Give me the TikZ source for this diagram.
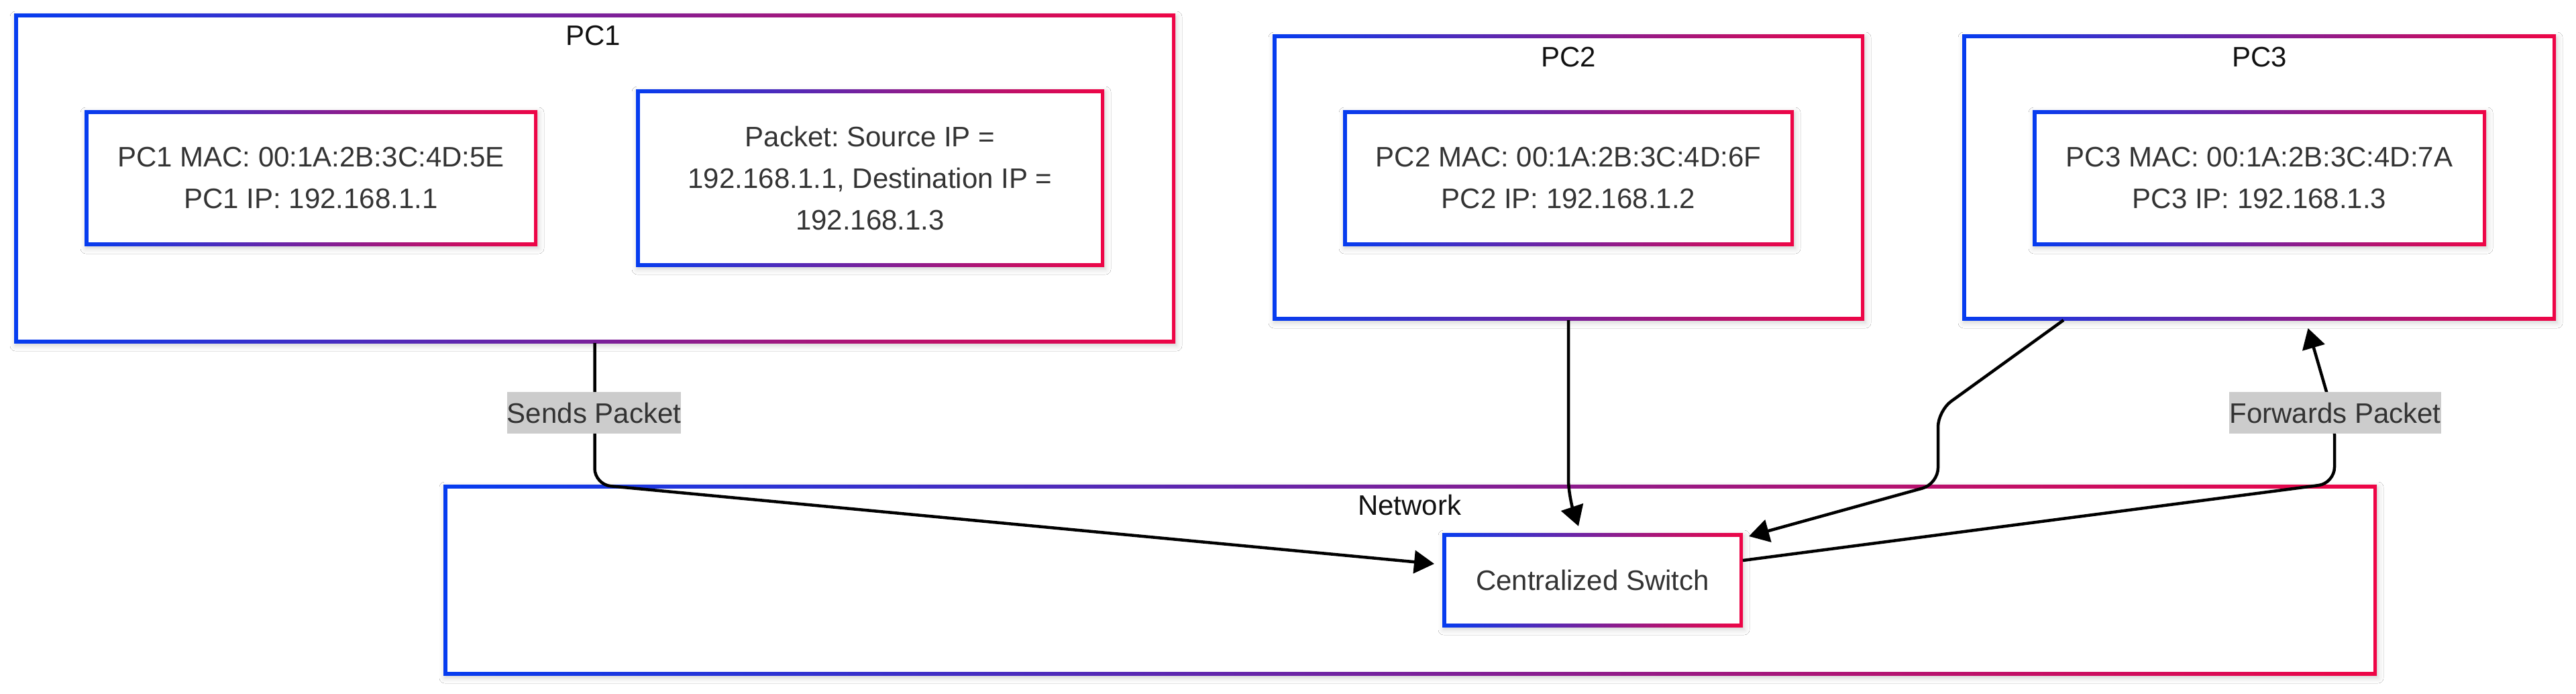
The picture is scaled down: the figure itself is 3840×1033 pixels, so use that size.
\documentclass[tikz,border=0pt]{standalone}
\usepackage{fontspec}
\setmainfont{Liberation Sans}
\usetikzlibrary{arrows.meta,shadows.blur}
\definecolor{gblue}{RGB}{5,60,240}
\definecolor{gred}{RGB}{238,5,70}
\definecolor{txt}{HTML}{333333}
\definecolor{ttl}{HTML}{111111}
\definecolor{lblgray}{HTML}{CCCCCC}
\newcommand\diagfont{\fontsize{42pt}{62pt}\selectfont\frenchspacing}
\tikzset{
  gbox/.style={rectangle, inner sep=0pt, outer sep=0pt, align=center, text=txt, font=\diagfont,
    blur shadow={shadow xshift=2pt, shadow yshift=-4pt, shadow blur radius=8pt, shadow opacity=18},
    path picture={
      \shade[left color=gblue, right color=gred] (path picture bounding box.south west) rectangle (path picture bounding box.north east);
      \fill[white] ([xshift=5.5pt,yshift=-5.5pt]path picture bounding box.north west) rectangle ([xshift=-5.5pt,yshift=5.5pt]path picture bounding box.south east);
    }},
  ctitle/.style={inner sep=0pt, font=\diagfont, text=ttl},
  elabel/.style={fill=lblgray, text=txt, inner xsep=0pt, inner ysep=0pt, minimum height=62pt, font=\diagfont},
  conn/.style={draw=black, line width=4.5pt, -{Triangle[length=30pt,width=34pt]}, rounded corners=24pt}
}
\frenchspacing
\begin{document}
\begin{tikzpicture}[x=1pt,y=-1pt]
\fill[white] (0,0) rectangle (3840,1033);
\useasboundingbox (0,0) rectangle (3840,1033);

% PC1 cluster
\node[gbox, minimum width=1731pt, minimum height=490pt] (pc1) at (886.5,266) {};
\node[ctitle] (pc1t) at (884,53) {PC1};
\node[gbox, minimum width=675pt, minimum height=202pt] (mac1) at (463.5,265) {PC1 MAC: 00:1A:2B:3C:4D:5E\\PC1 IP: 192.168.1.1};
\node[gbox, minimum width=698pt, minimum height=264pt] (pkt) at (1297,265) {Packet: Source IP =\\192.168.1.1, Destination IP =\\192.168.1.3};

% PC2 cluster
\node[gbox, minimum width=882pt, minimum height=425pt] (pc2) at (2338,264.5) {};
\node[ctitle] (pc2t) at (2338,85) {PC2};
\node[gbox, minimum width=672pt, minimum height=202pt] (mac2) at (2338,265) {PC2 MAC: 00:1A:2B:3C:4D:6F\\PC2 IP: 192.168.1.2};

% PC3 cluster
\node[gbox, minimum width=885pt, minimum height=425pt] (pc3) at (3367.5,264.5) {};
\node[ctitle] (pc3t) at (3368,85) {PC3};
\node[gbox, minimum width=676pt, minimum height=202pt] (mac3) at (3368,265) {PC3 MAC: 00:1A:2B:3C:4D:7A\\PC3 IP: 192.168.1.3};

% Network cluster
\node[gbox, minimum width=2882pt, minimum height=284pt] (net) at (2102,864) {};
\node[ctitle] (nett) at (2101,752) {Network};
\node[gbox, minimum width=448pt, minimum height=140pt] (sw) at (2374,864) {Centralized Switch};

% connectors
\draw[conn] (pc1.south) -- (pc1.south |- net.north) -- ([yshift=24pt,xshift=-12pt]sw.west);
\draw[conn] (pc2.south) -- (2338,690) .. controls (2338,735) and (2345,760) .. ([xshift=-21pt,yshift=10pt]sw.north);
\draw[conn] ([xshift=-291.5pt]pc3.south) -- (2889,612) -- (2889,721) -- ([xshift=9pt,yshift=-5pt]sw.north east);
\draw[conn] ([yshift=29pt]sw.east) -- (3480,720) -- (3480,625) -- ([xshift=73pt,yshift=-12pt]pc3.south);

% edge labels
\node[elabel] (l1) at (885.5,615) {Sends Packet};
\node[elabel] (l2) at (3481,615) {Forwards Packet};
\end{tikzpicture}
\end{document}
